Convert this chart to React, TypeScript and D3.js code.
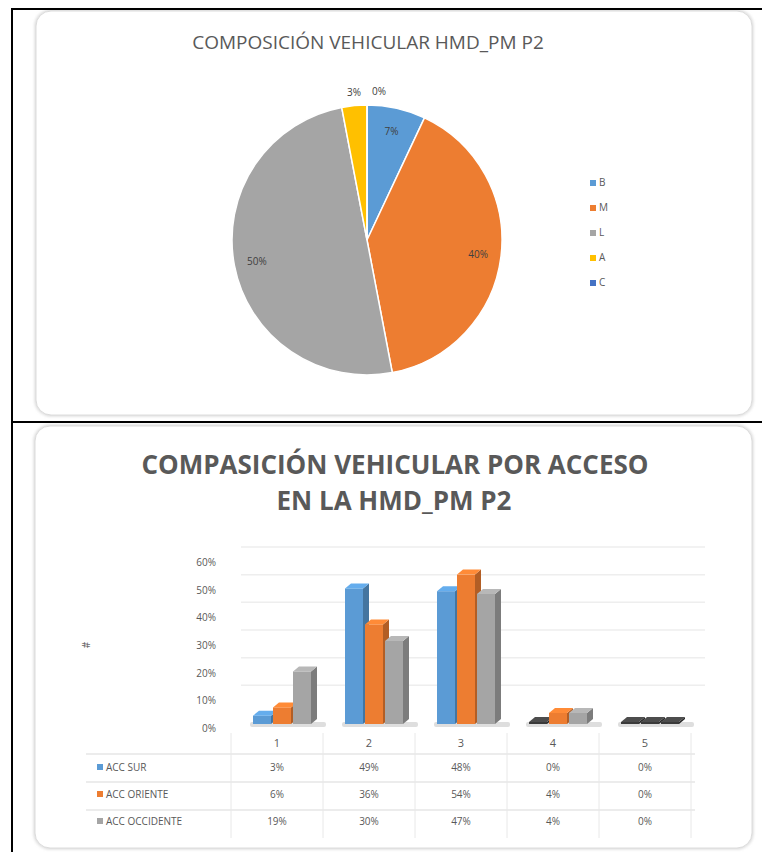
import React from 'react';
import * as d3 from 'd3';

// ---------- data ----------
const pieLabels = ['B', 'M', 'L', 'A', 'C'];
const pieValues = [7, 40, 50, 3, 0];
const pieColors = ['#5B9BD5', '#ED7D31', '#A5A5A5', '#FFC000', '#4472C4'];

const categories = ['1', '2', '3', '4', '5'];
const seriesNames = ['ACC SUR', 'ACC ORIENTE', 'ACC OCCIDENTE'];
const accSur = [3, 49, 48, 0, 0];
const accOriente = [6, 36, 54, 4, 0];
const accOccidente = [19, 30, 47, 4, 0];
const seriesColors = ['#5B9BD5', '#ED7D31', '#A5A5A5'];
const yTicks = [0, 10, 20, 30, 40, 50, 60];

const W = 762;
const H = 852;
const FONT = "'Open Sans', 'Liberation Sans', sans-serif";
const TXT = '#595959';

function PieChart() {
  const cx = 367, cy = 240, r = 135;
  const pie = d3.pie<number>().sort(null).value((d) => d)(pieValues);
  const arc = d3.arc<d3.PieArcDatum<number>>().innerRadius(0).outerRadius(r);
  const total = d3.sum(pieValues);
  return (
    <g>
      <text x={368} y={49} textAnchor="middle" fontFamily={FONT} fontSize={19} fill={TXT}>
        COMPOSICIÓN VEHICULAR HMD_PM P2
      </text>
      <g transform={`translate(${cx},${cy})`}>
        {pie.map((p, i) => (
          <path key={i} d={arc(p) || ''} fill={pieColors[i]} stroke="#fff" strokeWidth={1.5} />
        ))}
        {pie.map((p, i) => {
          const frac = pieValues[i] / total;
          const a = (p.startAngle + p.endAngle) / 2;
          const label = `${pieValues[i]}%`;
          if (frac >= 0.05) {
            const rr = r * 0.83;
            return (
              <text key={i} x={Math.sin(a) * rr} y={-Math.cos(a) * rr + 4} textAnchor="middle"
                fontFamily={FONT} fontSize={10} fill="#404040">{label}</text>
            );
          }
          const rr = r + 14;
          const left = a > Math.PI && a < 2 * Math.PI - 1e-6;
          const x = Math.sin(a) * rr + (left ? 8 : 5);
          return (
            <text key={i} x={x} y={-Math.cos(a) * rr + 4} textAnchor={left ? 'end' : 'start'}
              fontFamily={FONT} fontSize={10} fill="#404040">{label}</text>
          );
        })}
      </g>
      {pieLabels.map((l, i) => (
        <g key={l} transform={`translate(590,${184 + i * 25})`}>
          <rect x={0} y={-4} width={6} height={6} fill={pieColors[i]} />
          <text x={9} y={2} fontFamily={FONT} fontSize={10} fill={TXT}>{l}</text>
        </g>
      ))}
    </g>
  );
}

function BarChart() {
  const x = d3.scaleBand<string>().domain(categories).range([231, 691]);
  const y = d3.scaleLinear().domain([0, 60]).range([728, 562]);
  const series = [accSur, accOriente, accOccidente];
  const barW = 18, step = 20, dx = 6, dy = -5, lift = 4;
  const darker = (c: string, k: number) => d3.color(c)!.darker(k).formatHex();
  const brighter = (c: string, k: number) => d3.color(c)!.brighter(k).formatHex();
  const bottom = y(0) - lift;
  const rowsY = [771, 798, 825];
  return (
    <g>
      <text x={395} y={474} textAnchor="middle" fontFamily={FONT} fontSize={26} fontWeight="bold" fill="#595959">
        COMPASICIÓN VEHICULAR POR ACCESO
      </text>
      <text x={394} y={510} textAnchor="middle" fontFamily={FONT} fontSize={26} fontWeight="bold" fill="#595959">
        EN LA HMD_PM P2
      </text>
      {/* back wall gridlines */}
      {yTicks.filter((t) => t > 0).map((t) => (
        <line key={t} x1={241} x2={705} y1={y(t) - 15} y2={y(t) - 15} stroke="#eeeeee" strokeWidth={1.5} />
      ))}
      {/* y tick labels */}
      {yTicks.map((t) => (
        <text key={t} x={216} y={y(t) + 4} textAnchor="end" fontFamily={FONT} fontSize={10} fill={TXT}>{`${t}%`}</text>
      ))}
      <text transform="translate(90,645) rotate(-90)" textAnchor="middle" fontFamily={FONT} fontSize={10} fill={TXT}>#</text>
      {/* floor shadows */}
      {categories.map((c) => {
        const cx = (x(c) || 0) + x.bandwidth() / 2;
        return <rect key={c} x={cx - 27} y={bottom - 2} width={76} height={5} fill="#c8c8c8" opacity={0.6} rx={2} />;
      })}
      {/* bars */}
      {categories.map((c, ci) => {
        const cx = (x(c) || 0) + x.bandwidth() / 2;
        return (
          <g key={c}>
            {series.map((s, si) => {
              const v = s[ci];
              const col = seriesColors[si];
              const x0 = cx - 24 + si * step;
              const x1 = x0 + barW;
              const top = Math.min(y(v) - lift, bottom - (v === 0 ? 2 : 0));
              const zero = v === 0;
              const frontCol = zero ? '#3a3a3a' : col;
              const sideCol = zero ? '#262626' : darker(col, 0.8);
              const topCol = zero ? '#4d4d4d' : brighter(col, 0.3);
              return (
                <g key={si}>
                  <rect x={x0} y={top} width={barW} height={bottom - top} fill={frontCol} />
                  <polygon points={`${x1},${top} ${x1 + dx},${top + dy} ${x1 + dx},${bottom + dy} ${x1},${bottom}`} fill={sideCol} />
                  <polygon points={`${x0},${top} ${x0 + dx},${top + dy} ${x1 + dx},${top + dy} ${x1},${top}`} fill={topCol} />
                </g>
              );
            })}
          </g>
        );
      })}
      {/* data table */}
      {categories.map((c) => (
        <text key={c} x={(x(c) || 0) + x.bandwidth() / 2} y={747} textAnchor="middle" fontFamily={FONT} fontSize={11} fill={TXT}>{c}</text>
      ))}
      {[754, 782, 810].map((ly) => (
        <line key={ly} x1={86} x2={695} y1={ly} y2={ly} stroke="#d9d9d9" strokeWidth={1} />
      ))}
      {d3.range(categories.length + 1).map((i) => {
        const lx = 231 + i * x.bandwidth();
        return <line key={i} x1={lx} x2={lx} y1={733} y2={838} stroke="#e8e8e8" strokeWidth={1} />;
      })}
      {seriesNames.map((n, si) => (
        <g key={n}>
          <rect x={97} y={rowsY[si] - 7} width={6} height={6} fill={seriesColors[si]} />
          <text x={106} y={rowsY[si]} fontFamily={FONT} fontSize={10} fill={TXT}>{n}</text>
          {series[si].map((v, ci) => (
            <text key={ci} x={(x(categories[ci]) || 0) + x.bandwidth() / 2} y={rowsY[si]} textAnchor="middle"
              fontFamily={FONT} fontSize={10} fill={TXT}>{`${v}%`}</text>
          ))}
        </g>
      ))}
    </g>
  );
}

export default function App() {
  return (
    <svg width={W} height={H} viewBox={`0 0 ${W} ${H}`} style={{ position: 'absolute', left: 0, top: 0, background: '#fff' }}>
      <defs>
        <filter id="sh" x="-5%" y="-5%" width="110%" height="110%">
          <feGaussianBlur stdDeviation="1.5" />
        </filter>
      </defs>
      {/* panels */}
      <rect x={36} y={11} width={716} height={404} rx={15} fill="none" stroke="#c8c8c8" strokeWidth={2} filter="url(#sh)" />
      <rect x={36} y={11} width={716} height={404} rx={15} fill="#fff" stroke="#dcdcdc" strokeWidth={1} />
      <rect x={35} y={426} width={717} height={422} rx={15} fill="none" stroke="#c8c8c8" strokeWidth={2} filter="url(#sh)" />
      <rect x={35} y={426} width={717} height={422} rx={15} fill="#fff" stroke="#dcdcdc" strokeWidth={1} />
      {/* outer frame lines */}
      <line x1={12} x2={762} y1={9} y2={9} stroke="#000" strokeWidth={2} />
      <line x1={12} x2={762} y1={422} y2={422} stroke="#000" strokeWidth={2} />
      <line x1={12} x2={12} y1={8} y2={852} stroke="#000" strokeWidth={2} />
      <PieChart />
      <BarChart />
    </svg>
  );
}
